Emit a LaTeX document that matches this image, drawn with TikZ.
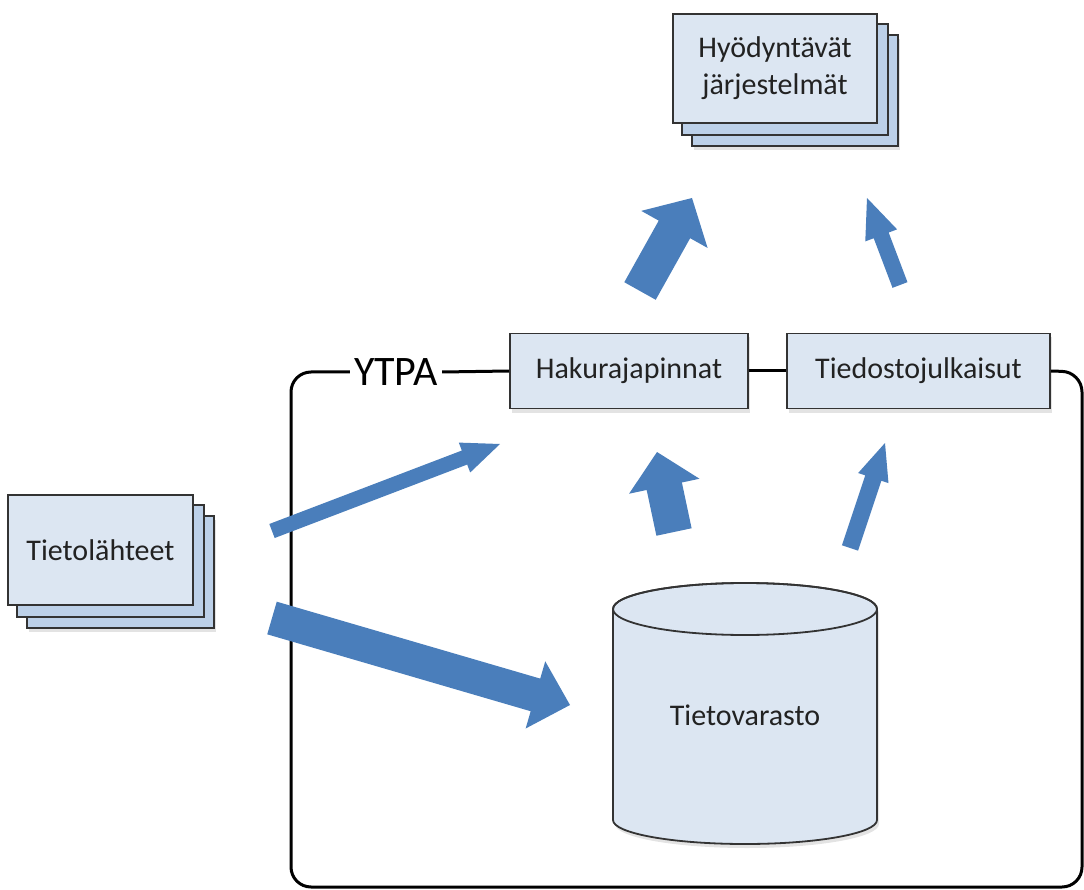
\documentclass[tikz,border=0pt]{standalone}
\usepackage{fontspec}
\setmainfont{Carlito}
\usetikzlibrary{calc,shadows,backgrounds}

\definecolor{boxfill}{HTML}{DCE6F2}
\definecolor{sheetfill}{HTML}{BCD0E8}
\definecolor{boxline}{HTML}{333333}
\definecolor{flow}{HTML}{4A7EBB}
\definecolor{ink}{HTML}{222222}

% Block arrow: #1 tail, #2 tip, #3 half shaft width, #4 half head width, #5 head length
\newcommand\flowarrow[5]{%
  \coordinate (fa-base) at ($(#2)!#5!(#1)$);
  \fill[flow]
    ($(#1)!#3!90:(#2)$) -- ($(fa-base)!#3!90:(#2)$) -- ($(fa-base)!#4!90:(#2)$)
    -- (#2)
    -- ($(fa-base)!#4!-90:(#2)$) -- ($(fa-base)!#3!-90:(#2)$) -- ($(#1)!#3!-90:(#2)$)
    -- cycle;
}

\tikzset{
  label text/.style={text=ink, font=\fontsize{30}{37}\selectfont},
  panel/.style={label text, draw=boxline, line width=1.8pt, fill=boxfill,
                inner sep=0pt, align=center},
  sheet/.style={draw=boxline, line width=1.8pt, fill=sheetfill},
  softshadow/.style={drop shadow={shadow xshift=2pt, shadow yshift=-4pt,
                fill=gray, opacity=0.22}},
  frame/.style={line width=3pt, black},
}

\begin{document}
\begin{tikzpicture}[x=1pt, y=-1pt]
\useasboundingbox (0,0) rectangle (1084,890);

% stacked document boxes
\node[panel, minimum width=204pt, minimum height=109pt] (users) at (775,68.5)
  {Hyödyntävät\\järjestelmät};
\node[panel, minimum width=185pt, minimum height=110pt] (sources) at (100.5,550)
  {Tietolähteet};
\begin{scope}[on background layer]
  \foreach \n in {users, sources} {
    \draw[sheet, softshadow] ([shift={(20,22)}]\n.north west) rectangle ([shift={(20,22)}]\n.south east);
    \draw[sheet] ([shift={(10,11)}]\n.north west) rectangle ([shift={(10,11)}]\n.south east);
  }
\end{scope}

% interface boxes on the YTPA boundary
\node[panel, softshadow, minimum width=238pt, minimum height=75pt] (api) at (629,371)
  {Hakurajapinnat};
\node[panel, softshadow, minimum width=263pt, minimum height=75pt] (files) at (918.5,371)
  {Tiedostojulkaisut};
\node[text=black, font=\fontsize{42}{48}\selectfont, inner xsep=4pt, inner ysep=0pt]
  (ytpa) at (396,372) {YTPA};

% YTPA boundary
\draw[frame, rounded corners=20pt] (ytpa.west) -- (291,372) -- (291,887)
  -- (1082,887) -- (1082,372) -- (files.east);
\draw[frame] (ytpa.east) -- (api.west);
\draw[frame] (api.east) -- (files.west);

% data store cylinder
\filldraw[draw=boxline, line width=1.8pt, fill=boxfill, softshadow]
  (613,609) -- (613,820) arc[start angle=180, end angle=360, x radius=132pt, y radius=24pt]
  -- (877,609) arc[start angle=0, end angle=180, x radius=132pt, y radius=26pt] -- cycle;
\draw[draw=boxline, line width=1.8pt] (745,609) ellipse [x radius=132pt, y radius=26pt];
\node[label text] (store) at (745,715) {Tietovarasto};

% flow arrow end points
\coordinate (src-api-tail) at (272,531);
\coordinate (src-api-tip) at (500,444);
\coordinate (src-store-tail) at (272,618);
\coordinate (src-store-tip) at (570,705);
\coordinate (store-api-tail) at (674,532);
\coordinate (store-api-tip) at (657,452);
\coordinate (store-files-tail) at (850,548);
\coordinate (store-files-tip) at (885,443);
\coordinate (api-users-tail) at (640,291);
\coordinate (api-users-tip) at (692,198);
\coordinate (files-users-tail) at (900,285);
\coordinate (files-users-tip) at (867,198);

\flowarrow{src-api-tail}{src-api-tip}{7.5pt}{16pt}{38pt}
\flowarrow{src-store-tail}{src-store-tip}{17pt}{35pt}{36pt}
\flowarrow{store-api-tail}{store-api-tip}{18pt}{36pt}{35pt}
\flowarrow{store-files-tail}{store-files-tip}{8.5pt}{16pt}{37pt}
\flowarrow{api-users-tail}{api-users-tip}{18pt}{38pt}{36pt}
\flowarrow{files-users-tail}{files-users-tip}{8pt}{17pt}{40pt}
\end{tikzpicture}
\end{document}
